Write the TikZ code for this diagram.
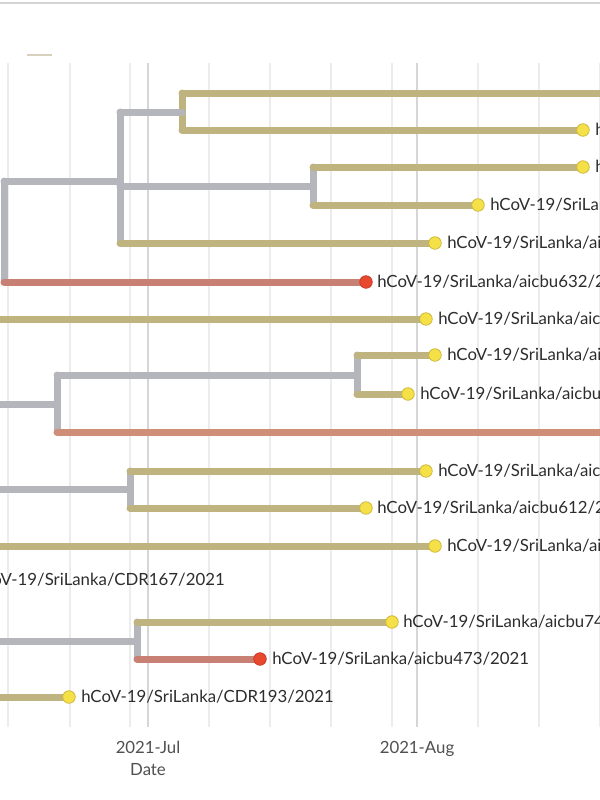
\documentclass[tikz,border=0pt]{standalone}
\usepackage{fontspec}
\setmainfont{Lato}
\usetikzlibrary{calc}
\definecolor{tanc}{RGB}{191,179,128}
\definecolor{grayc}{RGB}{180,182,187}
\definecolor{salc}{RGB}{200,128,116}
\definecolor{orc}{RGB}{206,142,120}
\definecolor{reddot}{RGB}{232,72,46}
\definecolor{reddotline}{RGB}{200,60,40}
\definecolor{ydotc}{RGB}{246,224,72}
\definecolor{ydotline}{RGB}{205,185,60}
\definecolor{gridl}{RGB}{236,236,236}
\definecolor{gridd}{RGB}{214,214,214}
\definecolor{txtc}{RGB}{45,45,45}
\definecolor{axc}{RGB}{80,80,80}
\tikzset{
  br/.style={line width=5.25pt, line cap=round, line join=round},
  tanb/.style={br, draw=tanc},
  grayb/.style={br, draw=grayc},
  salb/.style={br, draw=salc},
  orb/.style={br, draw=orc},
  ydot/.style={circle, inner sep=0pt, minimum size=9.4pt, fill=ydotc, draw=ydotline, line width=0.6pt},
  rdot/.style={circle, inner sep=0pt, minimum size=9.4pt, fill=reddot, draw=reddotline, line width=0.6pt},
  lab/.style={anchor=base west, inner sep=0pt, text=txtc, font=\fontsize{12.6}{15}\selectfont},
  axlab/.style={anchor=base, inner sep=0pt, text=axc, font=\fontsize{12.6}{15}\selectfont},
  gridlight/.style={draw=gridl, line width=0.9pt},
  griddark/.style={draw=gridd, line width=1.6pt}
}
\begin{document}
\begin{tikzpicture}[x=0.75pt,y=-0.75pt]
\useasboundingbox (0,0) rectangle (600,800);
\fill[white] (0,0) rectangle (600,800);
% top rule and faint legend stroke
\draw[draw={rgb,255:red,212;green,212;blue,212}, line width=1.5pt] (0,3) -- (600,3);
\draw[draw={rgb,255:red,214;green,208;blue,188}, line width=0.8pt] (27,55) -- (52,55);
% grid
\foreach \gx in {8,70,130,209,270,331,392,478,539,600} {\draw[gridlight] (\gx,63) -- (\gx,727);}
\foreach \gx in {148,417} {\draw[griddark] (\gx,63) -- (\gx,727);}
% internal nodes
\coordinate (A) at (4,232);
\coordinate (B) at (120,181);
\coordinate (C) at (182,112);
\coordinate (D) at (313,186);
\coordinate (E) at (57,404);
\coordinate (F) at (357,375);
\coordinate (G) at (130,489);
\coordinate (H) at (137,641);
\coordinate (offE) at (-10,404);
\coordinate (offG) at (-10,489);
\coordinate (offH) at (-10,641);
\coordinate (off7) at (-10,319);
\coordinate (off13) at (-10,546);
\coordinate (off17) at (-10,697);
% tips
\coordinate (t1) at (640,93);
\coordinate (t2) at (583,130);
\coordinate (t3) at (583,167);
\coordinate (t4) at (478,205);
\coordinate (t5) at (435,243);
\coordinate (t6) at (366,282);
\coordinate (t7) at (426,319);
\coordinate (t8) at (435,355);
\coordinate (t9) at (408,394);
\coordinate (t10) at (640,432);
\coordinate (t11) at (426,471);
\coordinate (t12) at (366,508);
\coordinate (t13) at (435,546);
\coordinate (t15) at (392,622);
\coordinate (t16) at (260,659);
\coordinate (t17) at (69,697);
% vertical parts
\draw[grayb] (A |- B) -- (A |- t6);
\draw[grayb] (B |- C) -- (B |- t5);
\draw[tanb] (C |- t1) -- (C |- t2);
\draw[grayb] (D |- t3) -- (D |- t4);
\draw[grayb] (E |- F) -- (E |- t10);
\draw[grayb] (F |- t8) -- (F |- t9);
\draw[grayb] (G |- t11) -- (G |- t12);
\draw[grayb] (H |- t15) -- (H |- t16);
% horizontal branches
\draw[grayb] (A |- B) -- (B);
\draw[grayb] (B |- C) -- (C);
\draw[grayb] (B |- D) -- (D);
\draw[grayb] (offE) -- (E);
\draw[grayb] (E |- F) -- (F);
\draw[grayb] (offG) -- (G);
\draw[grayb] (offH) -- (H);
\draw[tanb] (C |- t1) -- (t1);
\draw[tanb] (C |- t2) -- (t2);
\draw[tanb] (D |- t3) -- (t3);
\draw[tanb] (D |- t4) -- (t4);
\draw[tanb] (B |- t5) -- (t5);
\draw[salb] (A |- t6) -- (t6);
\draw[tanb] (off7) -- (t7);
\draw[tanb] (F |- t8) -- (t8);
\draw[tanb] (F |- t9) -- (t9);
\draw[orb] (E |- t10) -- (t10);
\draw[tanb] (G |- t11) -- (t11);
\draw[tanb] (G |- t12) -- (t12);
\draw[tanb] (off13) -- (t13);
\draw[tanb] (H |- t15) -- (t15);
\draw[salb] (H |- t16) -- (t16);
\draw[tanb] (off17) -- (t17);
% tip dots
\foreach \t in {t2,t3,t4,t5,t7,t8,t9,t11,t12,t13,t15,t17} {\node[ydot] (d\t) at (\t) {};}
\foreach \t in {t6,t16} {\node[rdot] (d\t) at (\t) {};}
% labels
\node[lab] (l2) at ($(t2)+(12,5)$) {hCoV-19/SriLanka};
\node[lab] (l3) at ($(t3)+(12,5)$) {hCoV-19/SriLanka};
\node[lab] (l4) at ($(t4)+(12,5)$) {hCoV-19/SriLanka};
\node[lab] (l5) at ($(t5)+(12,5)$) {hCoV-19/SriLanka/aicbu};
\node[lab] (l6) at ($(t6)+(11,5)$) {hCoV-19/SriLanka/aicbu632/2021};
\node[lab] (l7) at ($(t7)+(12,5)$) {hCoV-19/SriLanka/aicbu};
\node[lab] (l8) at ($(t8)+(12,5)$) {hCoV-19/SriLanka/aicbu};
\node[lab] (l9) at ($(t9)+(12,5)$) {hCoV-19/SriLanka/aicbu};
\node[lab] (l11) at ($(t11)+(12,5)$) {hCoV-19/SriLanka/aicbu};
\node[lab] (l12) at ($(t12)+(11,5)$) {hCoV-19/SriLanka/aicbu612/2021};
\node[lab] (l13) at ($(t13)+(12,5)$) {hCoV-19/SriLanka/aicbu};
\node[lab, anchor=base east] (l14) at (225,585) {hCoV-19/SriLanka/CDR167/2021};
\node[lab] (l15) at ($(t15)+(11,5)$) {hCoV-19/SriLanka/aicbu74};
\node[lab] (l16) at ($(t16)+(12,5)$) {hCoV-19/SriLanka/aicbu473/2021};
\node[lab] (l17) at ($(t17)+(12,5)$) {hCoV-19/SriLanka/CDR193/2021};
% axis
\node[axlab] (jul) at (148,753) {2021-Jul};
\node[axlab] (date) at (148,775) {Date};
\node[axlab] (aug) at (417,753) {2021-Aug};
\end{tikzpicture}
\end{document}
